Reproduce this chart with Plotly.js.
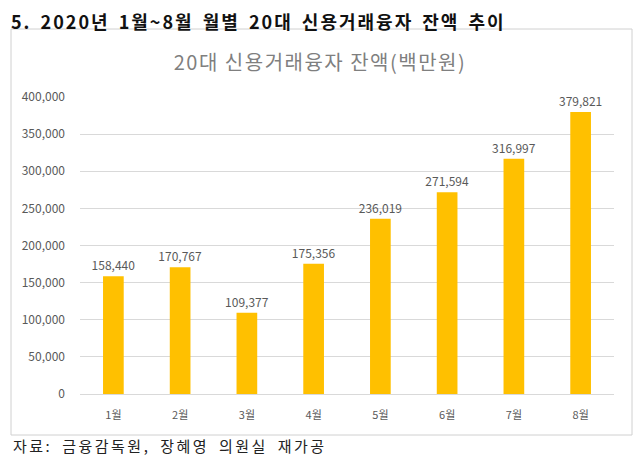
<!DOCTYPE html>
<html><head><meta charset="utf-8">
<script src="https://cdn.plot.ly/plotly-3.0.1.min.js"></script>
<style>
body{margin:0;background:#fff}#c{width:640px;height:471px}
g.annotation[data-index="0"] text{letter-spacing:2px;word-spacing:3px}
g.annotation[data-index="1"] text{letter-spacing:2.5px;word-spacing:4px}
.gtitle{letter-spacing:1.5px}
</style>
</head><body><div id="c"></div>
<script>
const months = ['1월','2월','3월','4월','5월','6월','7월','8월'];
const balances = [158440, 170767, 109377, 175356, 236019, 271594, 316997, 379821];
const yTicks = [0, 50000, 100000, 150000, 200000, 250000, 300000, 350000, 400000];
const yTickLabels = ['0','50,000','100,000','150,000','200,000','250,000','300,000','350,000','400,000'];

const L = 80, R = 614, T = 97, B = 394;
const px = x => (x - L) / (R - L);
const py = y => (B - y) / (B - T);

const font = '"Noto Sans CJK KR", "Noto Sans", sans-serif';

Plotly.newPlot('c', [{
  type: 'bar', x: months, y: balances,
  marker: {color: '#FFC000'}, width: 0.31,
  text: balances.map(v => v.toLocaleString('en-US')),
  textposition: 'outside', cliponaxis: false, constraintext: 'none',
  textfont: {family: font, size: 12, color: '#595959'},
  hoverinfo: 'none'
}], {
  width: 640, height: 471,
  margin: {l: L, r: 640 - R, t: T, b: 471 - B},
  paper_bgcolor: '#fff', plot_bgcolor: '#fff',
  showlegend: false,
  title: {text: '20대 신용거래융자 잔액(백만원)', x: 0.5, xref: 'container', xanchor: 'center',
          y: 1 - 63/471, yref: 'container', yanchor: 'middle',
          font: {family: font, size: 20, color: '#7f7f7f'}},
  xaxis: {showgrid: false, showline: false, ticks: '', zeroline: false, ticklabelstandoff: 13,
          tickfont: {family: font, size: 11, color: '#595959'}},
  yaxis: {range: [0, 400000], tickvals: yTicks, ticktext: yTickLabels,
          showgrid: true, gridcolor: '#d9d9d9', gridwidth: 1, zeroline: true, zerolinecolor: '#d9d9d9',
          showline: false, ticks: '', ticklabelstandoff: 14,
          tickfont: {family: font, size: 12, color: '#595959'}},
  shapes: [{type: 'rect', xref: 'paper', yref: 'paper',
            x0: px(11), x1: px(632), y0: py(435), y1: py(29),
            line: {color: '#d0d0d0', width: 1}, fillcolor: 'rgba(0,0,0,0)', layer: 'below'}],
  annotations: [
    {text: '<b>5. 2020년 1월~8월 월별 20대 신용거래융자 잔액 추이</b>', xref: 'paper', yref: 'paper',
     x: px(9), y: py(21), xanchor: 'left', yanchor: 'middle', align: 'left', showarrow: false,
     font: {family: font, size: 18, color: '#111'}},
    {text: '자료: 금융감독원, 장혜영 의원실 재가공', xref: 'paper', yref: 'paper',
     x: px(11), y: py(445), xanchor: 'left', yanchor: 'middle', align: 'left', showarrow: false,
     font: {family: font, size: 15, color: '#222'}}
  ]
}, {staticPlot: true});
</script></body></html>
